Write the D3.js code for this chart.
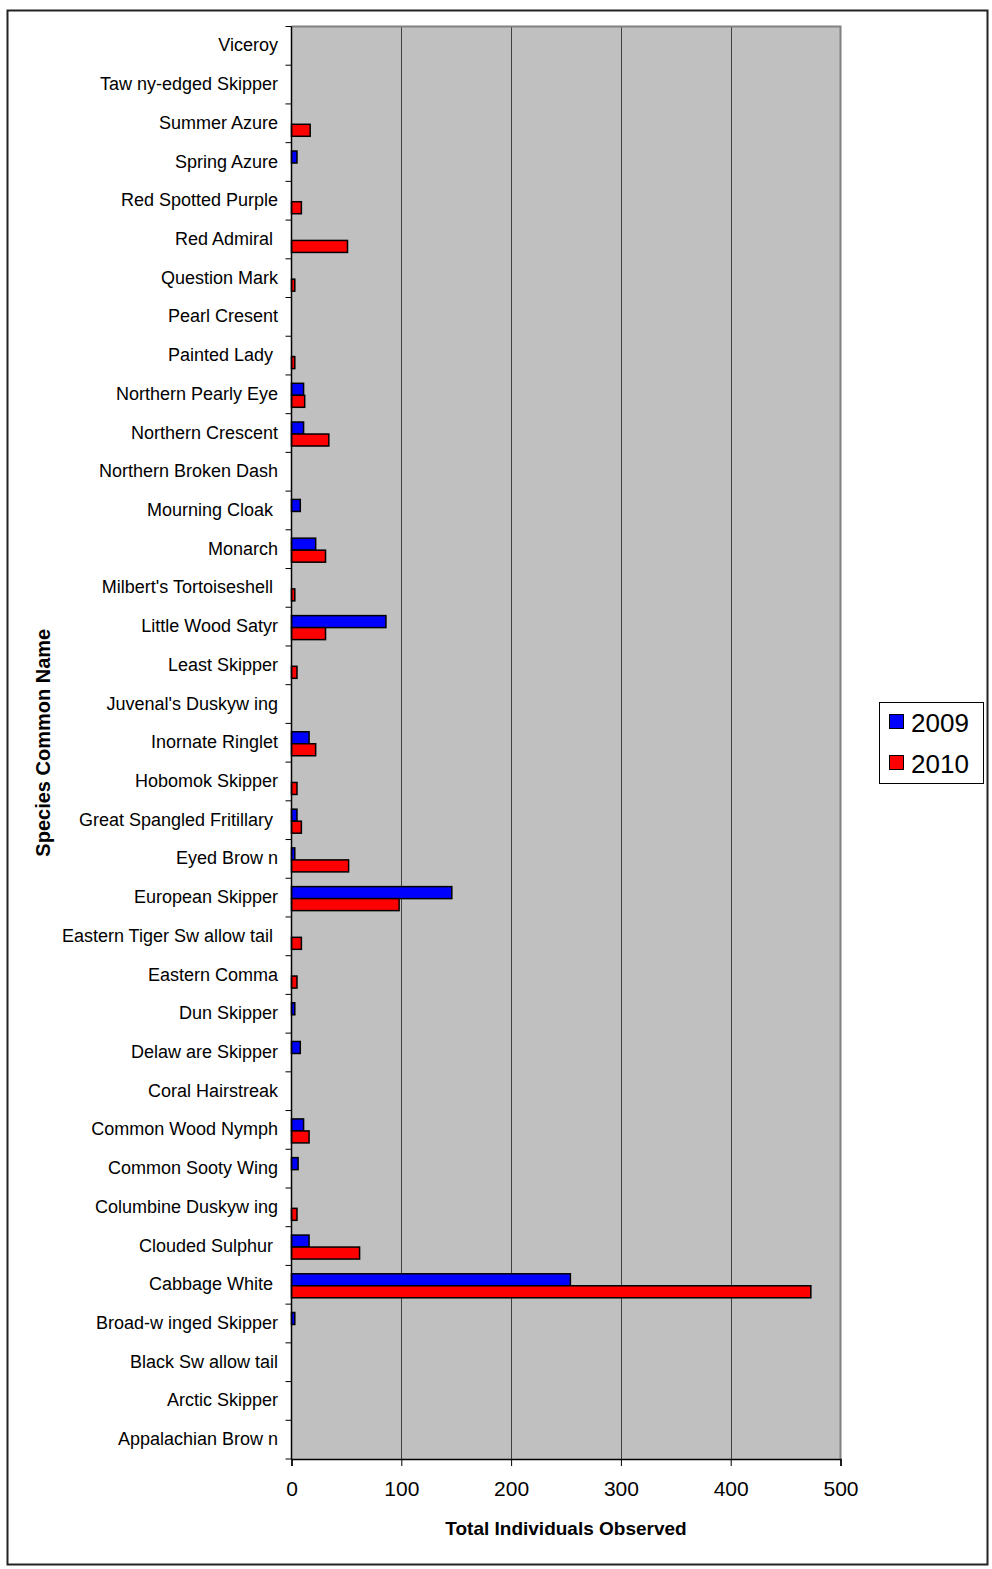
<!DOCTYPE html>
<html>
<head>
<meta charset="utf-8">
<script src="https://cdn.jsdelivr.net/npm/d3@7"></script>
<style>
  html, body { margin: 0; padding: 0; background: #fff; }
  svg { display: block; font-family: "Liberation Sans", Arial, sans-serif; }
  text { white-space: pre; }
</style>
</head>
<body>
<svg id="chart" width="992" height="1569"></svg>
<script>
// Butterfly survey counts by species, top row first
const species = [
  "Viceroy", "Taw ny-edged Skipper", "Summer Azure", "Spring Azure",
  "Red Spotted Purple", "Red Admiral ", "Question Mark", "Pearl Cresent",
  "Painted Lady ", "Northern Pearly Eye", "Northern Crescent", "Northern Broken Dash",
  "Mourning Cloak ", "Monarch", "Milbert's Tortoiseshell ", "Little Wood Satyr",
  "Least Skipper", "Juvenal's Duskyw ing", "Inornate Ringlet", "Hobomok Skipper",
  "Great Spangled Fritillary ", "Eyed Brow n", "European Skipper", "Eastern Tiger Sw allow tail ",
  "Eastern Comma", "Dun Skipper", "Delaw are Skipper", "Coral Hairstreak",
  "Common Wood Nymph", "Common Sooty Wing", "Columbine Duskyw ing", "Clouded Sulphur ",
  "Cabbage White ", "Broad-w inged Skipper", "Black Sw allow tail", "Arctic Skipper",
  "Appalachian Brow n"
];
const counts2009 = [
  0, 0, 0, 5, 0, 0, 0, 0, 0, 11, 11, 0, 8, 22, 0, 86, 0, 0, 16, 0,
  5, 3, 146, 0, 0, 3, 8, 0, 11, 6, 0, 16, 254, 3, 0, 0, 0
];
const counts2010 = [
  0, 0, 17, 0, 9, 51, 3, 0, 3, 12, 34, 0, 0, 31, 3, 31, 5, 0, 22, 5,
  9, 52, 98, 9, 5, 0, 0, 0, 16, 0, 5, 62, 473, 0, 0, 0, 0
];
const seriesNames = ["2009", "2010"];
const seriesColors = ["#0000ff", "#ff0000"];
const xTicks = [0, 100, 200, 300, 400, 500];

const svg = d3.select("#chart");

// outer frame
svg.append("rect")
  .attr("x", 7.5).attr("y", 10.5).attr("width", 980).attr("height", 1554)
  .attr("fill", "#fff").attr("stroke", "#222").attr("stroke-width", 2);

const plot = { left: 291.5, right: 840.5, top: 26.5, bottom: 1459 };

const x = d3.scaleLinear().domain([0, 500]).range([plot.left, plot.right]);
const y = d3.scaleBand().domain(species).range([plot.top, plot.bottom]).paddingInner(0).paddingOuter(0);

const barH = 12;
const ySeries = d3.scaleBand().domain(seriesNames)
  .range([(y.bandwidth() - 2 * barH) / 2 + 1, (y.bandwidth() + 2 * barH) / 2 + 1]);

// plot background
svg.append("rect")
  .attr("x", plot.left).attr("y", plot.top)
  .attr("width", plot.right - plot.left).attr("height", plot.bottom - plot.top)
  .attr("fill", "#c0c0c0");

// vertical gridlines
svg.append("g").selectAll("line")
  .data(xTicks.filter(t => t > 0 && t < 500))
  .join("line")
  .attr("x1", d => Math.round(x(d)) + 0.5).attr("x2", d => Math.round(x(d)) + 0.5)
  .attr("y1", plot.top).attr("y2", plot.bottom)
  .attr("stroke", "#404040").attr("stroke-width", 1);

// plot border (top/right in grey)
svg.append("path")
  .attr("d", `M${plot.left},${plot.top}H${plot.right}V${plot.bottom}`)
  .attr("fill", "none").attr("stroke", "#808080").attr("stroke-width", 2);

// bars
const rows = species.map((s, i) => ({ s, vals: [counts2009[i], counts2010[i]] }));
const barData = [];
rows.forEach(r => r.vals.forEach((v, k) => { if (v > 0) barData.push({ s: r.s, k, v }); }));

svg.append("g").selectAll("rect")
  .data(barData)
  .join("rect")
  .attr("x", x(0))
  .attr("y", d => y(d.s) + ySeries(seriesNames[d.k]))
  .attr("width", d => x(d.v) - x(0))
  .attr("height", ySeries.bandwidth())
  .attr("fill", d => seriesColors[d.k])
  .attr("stroke", "#000").attr("stroke-width", 1.5);

// left (category) axis: tick marks at category boundaries
const yAxisG = svg.append("g");
yAxisG.append("line")
  .attr("x1", plot.left).attr("x2", plot.left)
  .attr("y1", plot.top).attr("y2", plot.bottom)
  .attr("stroke", "#000").attr("stroke-width", 1.5);
yAxisG.selectAll("line.tick")
  .data(d3.range(species.length + 1))
  .join("line").attr("class", "tick")
  .attr("x1", plot.left - 6).attr("x2", plot.left)
  .attr("y1", i => plot.top + i * y.step()).attr("y2", i => plot.top + i * y.step())
  .attr("stroke", "#000").attr("stroke-width", 1);
yAxisG.selectAll("text")
  .data(species)
  .join("text")
  .attr("x", 278)
  .attr("y", d => y(d) + y.bandwidth() / 2 + 5.5)
  .attr("text-anchor", "end")
  .attr("font-size", 18)
  .attr("fill", "#000")
  .text(d => d);

// bottom (value) axis
const xAxisG = svg.append("g").attr("transform", `translate(0,${plot.bottom})`)
  .call(d3.axisBottom(x).tickValues(xTicks).tickSize(7).tickPadding(15).tickFormat(d3.format("d")));
xAxisG.select(".domain").attr("stroke", "#000").attr("stroke-width", 1.5);
xAxisG.selectAll(".tick line").attr("stroke", "#000");
xAxisG.selectAll(".tick text")
  .attr("font-size", 21).attr("fill", "#000")
  .attr("font-family", "'Liberation Sans', Arial, sans-serif");

// axis titles
svg.append("text")
  .attr("x", (plot.left + plot.right) / 2).attr("y", 1535)
  .attr("text-anchor", "middle").attr("font-size", 19).attr("font-weight", "bold")
  .text("Total Individuals Observed");

svg.append("text")
  .attr("transform", `translate(50,${(plot.top + plot.bottom) / 2}) rotate(-90)`)
  .attr("text-anchor", "middle").attr("font-size", 20).attr("font-weight", "bold")
  .text("Species Common Name");

// legend
const legend = svg.append("g");
legend.append("rect")
  .attr("x", 879.5).attr("y", 702.5).attr("width", 104).attr("height", 81)
  .attr("fill", "#fff").attr("stroke", "#000").attr("stroke-width", 1);
const items = legend.selectAll("g.item")
  .data(seriesNames)
  .join("g").attr("class", "item")
  .attr("transform", (d, i) => `translate(0,${722 + i * 41})`);
items.append("rect")
  .attr("x", 889.5).attr("y", -7.5).attr("width", 14).attr("height", 14)
  .attr("fill", (d, i) => seriesColors[i]).attr("stroke", "#000").attr("stroke-width", 1);
items.append("text")
  .attr("x", 911).attr("y", 9.5)
  .attr("font-size", 26).attr("fill", "#000")
  .text(d => d);
</script>
</body>
</html>
